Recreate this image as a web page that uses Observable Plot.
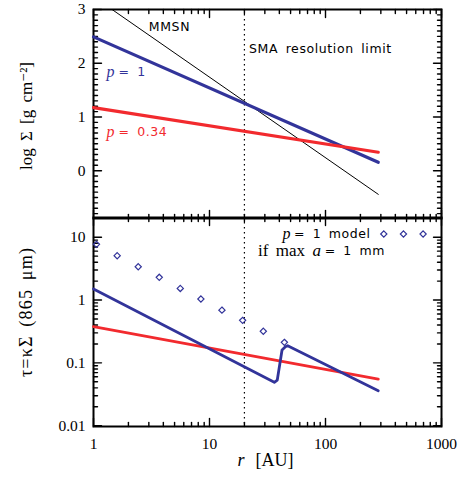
<!DOCTYPE html>
<html><head><meta charset="utf-8">
<script src="https://cdn.jsdelivr.net/npm/d3@7"></script>
<script src="https://cdn.jsdelivr.net/npm/@observablehq/plot@0.6"></script>
<style>
body{margin:0;background:#fff;color:#000;}
#wrap{position:relative;width:466px;height:479px;overflow:hidden;}
#top,#bot{position:absolute;left:0;}
#top{top:0}
#bot{top:212px}
svg text{word-spacing:3px;}
g[font-family*="DejaVu Sans"] text{letter-spacing:0.6px;}
</style></head><body><div id="wrap"><div id="top"></div><div id="bot"></div></div>
<script>
// ---- data ----
const rLine = [1, 285];                 // radial extent of model curves [AU]
const mmsnLogSigma = [3.24, -0.44];     // MMSN, log Sigma
const p1LogSigma = [2.49, 0.156];       // p = 1 model, log Sigma
const p034LogSigma = [1.175, 0.343];    // p = 0.34 model, log Sigma

const tauRedR = [1, 285];
const tauRed = [0.376, 0.055];
const tauBlueR = [1, 36.2, 38.4, 42.2, 45.1, 47.2, 285];
const tauBlue = [1.5, 0.0489, 0.0532, 0.160, 0.180, 0.187, 0.036];

const diamondR = [1.06, 1.60, 2.43, 3.69, 5.60, 8.43, 12.8, 19.3, 29.1, 44.2];
const diamondTau = [7.7, 5.08, 3.39, 2.3, 1.53, 1.04, 0.69, 0.475, 0.318, 0.212];
const legendDiamondR = [318, 470, 694];
const legendDiamondTau = [11.26, 11.26, 11.26];

const resolutionLimit = [20];
const xTickLabels = [1, 10, 100, 1000];
const yTopTickLabels = [0, 1, 2, 3];
const yBotTickLabels = [0.01, 0.1, 1, 10];

// ---- styling ----
const BLUE = "#32349a", RED = "#f22a2e";
const SERIF = "'Liberation Serif', 'DejaVu Serif', serif";
const SANS = "'DejaVu Sans', sans-serif";
const W = 348, H = 209;
const ML = 93, MR = 25;
const xDomain = [1, 1000];
const yTopDomain = [-0.89, 3.0];
const yBotDomain = [0.0097, 20.6];

const zip2 = (xs, ys) => xs.map((x, i) => ({r: x, v: ys[i]}));
const xMinor = [1, 10, 100].flatMap(d => d3.range(2, 10).map(k => d * k));
const yTopMinor = d3.range(-8, 30).filter(i => i % 10 !== 0).map(i => i / 10);
const yBotMinor = [0.01, 0.1, 1, 10].flatMap(d => d3.range(2, 10).map(k => d * k)).filter(v => v <= 20);

// inward IDL-style ticks on all four sides, drawn as short line segments
// (lengths converted from pixels to data units through matching scales)
function frameTicks(yScale, yDom, yMajor, yMinor) {
  const xs = d3.scaleLog().domain(xDomain).range([0, W]);
  const ys = yScale.copy().domain(yDom).range([H, 0]);
  const segs = [];
  let id = 0;
  for (const [ticks, len] of [[xTickLabels, 8], [xMinor, 4]]) {
    for (const t of ticks) {
      segs.push({x: t, y: yDom[1], id}, {x: t, y: ys.invert(len), id}); id++;
      segs.push({x: t, y: yDom[0], id}, {x: t, y: ys.invert(H - len), id}); id++;
    }
  }
  for (const [ticks, len] of [[yMajor, 8], [yMinor, 4]]) {
    for (const t of ticks) {
      segs.push({x: xDomain[0], y: t, id}, {x: xs.invert(len), y: t, id}); id++;
      segs.push({x: xDomain[1], y: t, id}, {x: xs.invert(W - len), y: t, id}); id++;
    }
  }
  return [
    Plot.line(segs, {x: "x", y: "y", z: "id", stroke: "black", strokeWidth: 1.4}),
    Plot.frame({stroke: "black", fill: "none", strokeWidth: 2})
  ];
}

// ---- top panel ----
const topPlot = Plot.plot({
  width: 466, height: 222,
  marginTop: 9, marginBottom: 4, marginLeft: ML, marginRight: MR,
  style: {fontFamily: SERIF, fontSize: "15.5px", background: "transparent", overflow: "visible"},
  x: {type: "log", domain: xDomain, axis: null},
  y: {domain: yTopDomain, axis: null},
  marks: [
    ...frameTicks(d3.scaleLinear(), yTopDomain, yTopTickLabels, yTopMinor),
    Plot.ruleX(resolutionLimit, {x: d => d, stroke: "black", strokeWidth: 1.2, strokeDasharray: "1.5,3.5"}),
    Plot.line(zip2(rLine, mmsnLogSigma), {x: "r", y: "v", stroke: "black", strokeWidth: 1, clip: true}),
    Plot.line(zip2(rLine, p1LogSigma), {x: "r", y: "v", stroke: BLUE, strokeWidth: 3.2}),
    Plot.line(zip2(rLine, p034LogSigma), {x: "r", y: "v", stroke: RED, strokeWidth: 3.2}),
    Plot.text(["MMSN"], {x: 3.0, y: 2.675, textAnchor: "start", fontFamily: SANS, fontSize: 12.5}),
    Plot.text(["SMA resolution limit"], {x: 21.9, y: 2.27, textAnchor: "start", fontFamily: SANS, fontSize: 12.5}),
    Plot.text(["p"], {x: 1.295, y: 1.844, textAnchor: "start", fontFamily: SERIF, fontStyle: "italic", fontSize: 16, fill: BLUE}),
    Plot.text(["= 1"], {x: 1.643, y: 1.844, textAnchor: "start", fontFamily: SANS, fontSize: 12.5, fill: BLUE}),
    Plot.text(["p"], {x: 1.295, y: 0.719, textAnchor: "start", fontFamily: SERIF, fontStyle: "italic", fontSize: 16, fill: RED}),
    Plot.text(["= 0.34"], {x: 1.643, y: 0.719, textAnchor: "start", fontFamily: SANS, fontSize: 12.5, fill: RED}),
    Plot.axisY({ticks: yTopTickLabels, tickSize: 0, tickPadding: 8, label: null, tickFormat: d => String(d)}),
    Plot.text(["log Σ [g cm⁻²]"], {frameAnchor: "left", dx: -67, dy: 2, rotate: -90, textAnchor: "middle", fontSize: 17, fontFamily: SERIF})
  ]
});
document.getElementById("top").appendChild(topPlot);

// ---- bottom panel ----
const botPlot = Plot.plot({
  width: 466, height: 267,
  marginTop: 5, marginBottom: 53, marginLeft: ML, marginRight: MR,
  style: {fontFamily: SERIF, fontSize: "15.5px", background: "transparent", overflow: "visible"},
  x: {type: "log", domain: xDomain},
  y: {type: "log", domain: yBotDomain},
  marks: [
    ...frameTicks(d3.scaleLog(), yBotDomain, yBotTickLabels, yBotMinor),
    Plot.ruleX(resolutionLimit, {x: d => d, stroke: "black", strokeWidth: 1.2, strokeDasharray: "1.5,3.5"}),
    Plot.line(zip2(tauRedR, tauRed), {x: "r", y: "v", stroke: RED, strokeWidth: 2.8}),
    Plot.line(zip2(tauBlueR, tauBlue), {x: "r", y: "v", stroke: BLUE, strokeWidth: 2.8}),
    Plot.dot(zip2(diamondR, diamondTau), {x: "r", y: "v", symbol: "diamond2", r: 2.8, stroke: BLUE, strokeWidth: 1.2, fill: "none"}),
    Plot.dot(zip2(legendDiamondR, legendDiamondTau), {x: "r", y: "v", symbol: "diamond2", r: 2.8, stroke: BLUE, strokeWidth: 1.2, fill: "none"}),
    Plot.text(["p"], {x: 42.5, y: 11.26, textAnchor: "start", fontFamily: SERIF, fontStyle: "italic", fontSize: 16}),
    Plot.text(["= 1 model"], {x: 53.5, y: 11.26, textAnchor: "start", fontFamily: SANS, fontSize: 12.5}),
    Plot.text(["if max"], {x: 26.2, y: 6.1, textAnchor: "start", fontFamily: SERIF, fontSize: 17}),
    Plot.text(["a"], {x: 77.1, y: 6.1, textAnchor: "start", fontFamily: SERIF, fontStyle: "italic", fontSize: 17}),
    Plot.text(["= 1 mm"], {x: 98.4, y: 6.1, textAnchor: "start", fontFamily: SANS, fontSize: 12.5}),
    Plot.axisY({ticks: yBotTickLabels, tickSize: 0, tickPadding: 8, label: null, tickFormat: d => String(d)}),
    Plot.axisX({ticks: xTickLabels, tickSize: 0, tickPadding: 11, label: null, tickFormat: d => String(d)}),
    Plot.text(["τ=κΣ (865 μm)"], {frameAnchor: "left", dx: -67, dy: -10, rotate: -90, textAnchor: "middle", fontSize: 18, fontFamily: SERIF}),
    Plot.text(["r"], {frameAnchor: "bottom", dx: -30, dy: 39, textAnchor: "start", fontStyle: "italic", fontSize: 18, fontFamily: SERIF}),
    Plot.text(["[AU]"], {frameAnchor: "bottom", dx: -12, dy: 39, textAnchor: "start", fontSize: 18, fontFamily: SERIF})
  ]
});
document.getElementById("bot").appendChild(botPlot);

// letter spacing for the rotated axis title (IDL-style spacing)
d3.selectAll("svg text").filter(function () { return this.textContent.startsWith("τ"); }).style("letter-spacing", "1.2px");
</script></body></html>
